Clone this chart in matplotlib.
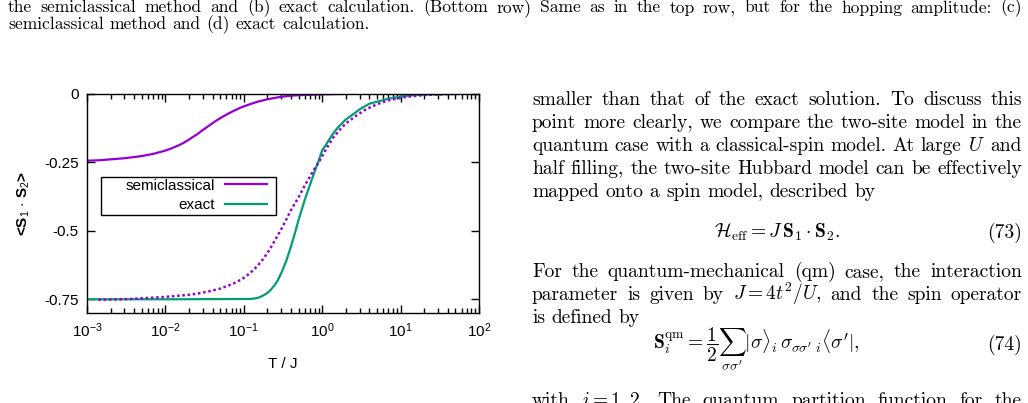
import matplotlib
matplotlib.use('Agg')
import matplotlib.pyplot as plt
from matplotlib.patches import Rectangle
from matplotlib.lines import Line2D
from matplotlib.ticker import NullLocator

# ── Data ─────────────────────────────────────────────────────────────────────
T_semi = [0.001, 0.0015, 0.002, 0.003, 0.005, 0.007, 0.01, 0.012, 0.015, 0.017, 0.02,
          0.022, 0.025, 0.027, 0.03, 0.033, 0.036, 0.04, 0.045, 0.05, 0.06, 0.07, 0.08,
          0.09, 0.1, 0.12, 0.15, 0.2, 0.25, 0.3, 0.4, 0.5, 1, 2, 5, 10, 100]
S_semi = [-0.245, -0.243, -0.240, -0.236, -0.228, -0.220, -0.208, -0.200, -0.188, -0.180,
          -0.168, -0.160, -0.150, -0.143, -0.133, -0.125, -0.117, -0.108, -0.098, -0.090,
          -0.077, -0.067, -0.059, -0.052, -0.047, -0.039, -0.030, -0.021, -0.016, -0.012,
          -0.008, -0.006, -0.003, -0.0015, -0.001, -0.0005, 0.0]

T_exact = [0.001, 0.01, 0.1, 0.12, 0.13, 0.15, 0.16, 0.18, 0.2, 0.22, 0.25, 0.27, 0.3,
           0.32, 0.35, 0.4, 0.45, 0.5, 0.55, 0.6, 0.7, 0.8, 0.9, 1.0, 1.1, 1.2, 1.35,
           1.5, 1.7, 2, 2.5, 3, 4, 5, 7, 10, 15, 20, 40, 100]
S_exact = [-0.750, -0.750, -0.749, -0.749, -0.748, -0.745, -0.742, -0.735, -0.727, -0.716,
           -0.697, -0.682, -0.655, -0.636, -0.608, -0.557, -0.508, -0.460, -0.422, -0.387,
           -0.332, -0.284, -0.246, -0.207, -0.190, -0.172, -0.150, -0.132, -0.115, -0.095,
           -0.075, -0.058, -0.037, -0.030, -0.019, -0.011, -0.006, -0.004, -0.002, -0.0005]

T_dot = [0.0014, 0.0035, 0.0093, 0.018, 0.025, 0.035, 0.05, 0.065, 0.08, 0.1, 0.12,
         0.15, 0.18, 0.21, 0.25, 0.3, 0.35, 0.4, 0.5, 0.6, 0.7, 0.8, 0.93, 1.1, 1.36,
         1.8, 2.2, 2.75, 3.5, 4.4, 5.5, 7.2, 12, 21, 40, 100]
S_dot = [-0.752, -0.749, -0.742, -0.735, -0.730, -0.722, -0.711, -0.699, -0.688, -0.672,
         -0.655, -0.628, -0.600, -0.572, -0.535, -0.495, -0.458, -0.425, -0.378, -0.335,
         -0.302, -0.274, -0.245, -0.207, -0.163, -0.122, -0.100, -0.080, -0.060, -0.046,
         -0.035, -0.024, -0.012, -0.005, -0.002, -0.001]

yticks = [0, -0.25, -0.5, -0.75]
ytick_labels = ['0', '-0.25', '-0.5', '-0.75']
legend_labels = ['semiclassical', 'exact']

PURPLE = '#9400D3'
GREEN = '#009E73'

plt.rcParams['font.family'] = ['Liberation Sans', 'DejaVu Sans']
plt.rcParams['mathtext.fontset'] = 'custom'
plt.rcParams['mathtext.rm'] = 'Liberation Sans'
plt.rcParams['mathtext.it'] = 'Liberation Sans:italic'
plt.rcParams['mathtext.bf'] = 'Liberation Sans:bold'

W, H = 1028, 403
fig = plt.figure(figsize=(W / 100, H / 100), dpi=100)
fig.patch.set_facecolor('white')

# ── Chart ────────────────────────────────────────────────────────────────────
ax = fig.add_axes([87 / W, 1 - 313 / H, 392 / W, 219.5 / H])
ax.plot(T_semi, S_semi, color=PURPLE, lw=1.6)
ax.plot(T_exact, S_exact, color=GREEN, lw=1.6)
ax.plot(T_dot, S_dot, color=PURPLE, lw=1.8, ls=(0, (1, 1.1)))

ax.set_xscale('log')
ax.set_xlim(1e-3, 1e2)
ax.set_ylim(-0.8, 0)
ax.set_yticks(yticks)
ax.set_yticklabels(ytick_labels)
ax.yaxis.set_minor_locator(NullLocator())
ax.tick_params(which='both', direction='in', top=True, right=True, labelsize=11, width=1)
ax.tick_params(which='major', length=6, pad=6)
ax.tick_params(which='minor', length=3.5)
for sp in ax.spines.values():
    sp.set_linewidth(1)

ax.set_xlabel('T / J', fontsize=11, labelpad=12)
ax.set_ylabel(r'<$\mathbf{S}_1$ $\cdot$ $\mathbf{S}_2$>', fontsize=11, fontweight='bold', labelpad=9)

handles = [Line2D([], [], color=PURPLE, lw=1.6), Line2D([], [], color=GREEN, lw=1.6)]
ax.legend(handles, legend_labels, loc='center right', bbox_to_anchor=(0.4584, 0.5355),
          markerfirst=False, frameon=False, handlelength=2.75, handletextpad=0.65,
          labelspacing=0.38, borderpad=0, borderaxespad=0, fontsize=11)
ax.add_patch(Rectangle((0.0357, 0.4465), 0.4464, 0.1745, transform=ax.transAxes,
                       fill=False, lw=1, ec='black', clip_on=False))

# ── Page text around the figure ──────────────────────────────────────────────
renderer = fig.canvas.get_renderer()


def measure(words, size):
    tot = 0
    for w in words:
        t = fig.text(0, 0, w, fontsize=size, family='cmr10', math_fontfamily='cm')
        tot += t.get_window_extent(renderer).width
        t.remove()
    return tot + (len(words) - 1) * 0.333 * size * 100 / 72


def fit_size(line, target):
    words = line.split(' ')
    return 10 * target / measure(words, 10)


def place(line, x0, y, size, x1=None):
    words = line.split(' ')
    ts = [fig.text(0, 0, w, fontsize=size, family='cmr10', math_fontfamily='cm',
                   va='baseline') for w in words]
    ws = [t.get_window_extent(renderer).width for t in ts]
    if x1 is None or len(words) == 1:
        gap = 0.333 * size * 100 / 72
    else:
        gap = (x1 - x0 - sum(ws)) / (len(ws) - 1)
    x = x0
    for t, w in zip(ts, ws):
        t.set_x(x / W)
        t.set_y(1 - y / H)
        x += w + gap


cap1 = ('the semiclassical method and (b) exact calculation. (Bottom row) Same as in the top '
        'row, but for the hopping amplitude: (c)')
cap_size = fit_size(cap1, 960)
place(cap1, 8, 12.5, cap_size, x1=1022)
place('semiclassical method and (d) exact calculation.', 8, 29, cap_size)

body = fit_size('mapped onto a spin model, described by', 346)
X0, X1 = 532, 1022
place('smaller than that of the exact solution. To discuss this', X0, 105, body, X1)
place('point more clearly, we compare the two-site model in the', X0, 128, body, X1)
place('quantum case with a classical-spin model. At large $U$ and', X0, 151, body, X1)
place('half filling, the two-site Hubbard model can be effectively', X0, 174, body, X1)
place('mapped onto a spin model, described by', X0, 197, body)

fig.text(777 / W, 1 - 238 / H,
         r'$\mathcal{H}_{\mathrm{eff}}=J\,\mathbf{S}_1\cdot\mathbf{S}_2.$',
         fontsize=body, math_fontfamily='cm', ha='center', va='baseline')
fig.text(X1 / W, 1 - 238 / H, '(73)', fontsize=body, family='cmr10',
         ha='right', va='baseline')

place('For the quantum-mechanical (qm) case, the interaction', X0, 277, body, X1)
place('parameter is given by $J=4t^{2}/U$, and the spin operator', X0, 300, body, X1)
place('is defined by', X0, 323, body)

fig.text(756 / W, 1 - 350 / H,
         r'$\mathbf{S}_i^{\mathrm{qm}}=\dfrac{1}{2}\sum_{\sigma\sigma^\prime}'
         r'|\sigma\rangle_i\,\sigma_{\sigma\sigma^\prime\ i}\langle\sigma^\prime|,$',
         fontsize=body, math_fontfamily='cm', ha='center', va='baseline')
fig.text(X1 / W, 1 - 350 / H, '(74)', fontsize=body, family='cmr10',
         ha='right', va='baseline')

place('with $i=1,2$. The quantum partition function for the', X0, 406, body, X1)

fig.savefig('out.png', dpi=100)
